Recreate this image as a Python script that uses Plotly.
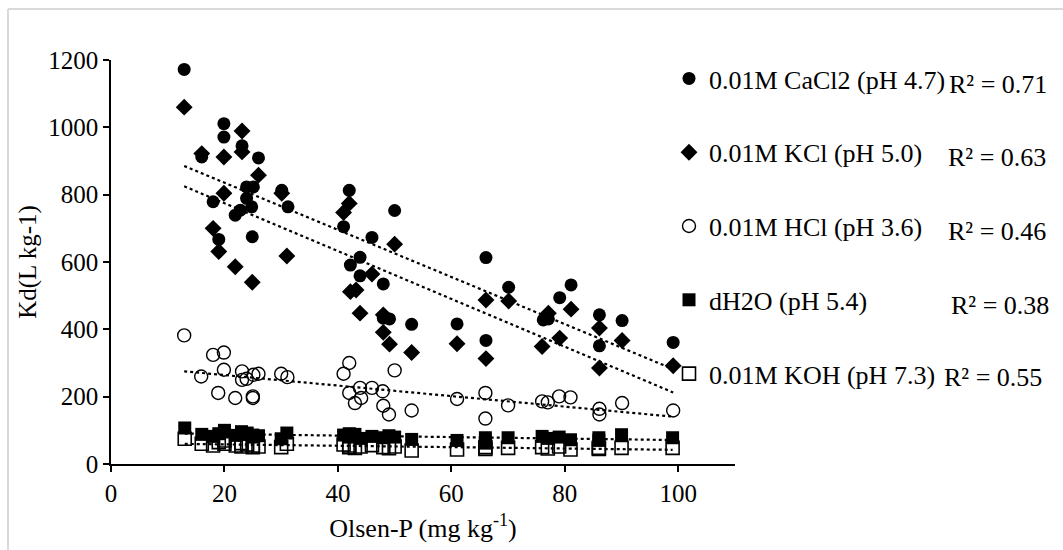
import numpy as np
import plotly.graph_objects as go

# ---------------- data ----------------
cacl2_x = [12.9, 16.0, 18.0, 19.0, 19.9, 19.9, 21.9, 22.8, 23.1, 23.9, 23.9, 24.8, 24.9, 25.1, 26.0,
           30.1, 31.2, 41.0, 42.0, 42.2, 43.9, 43.9, 46.0, 48.0, 48.0, 49.1, 50.0, 53.0, 61.0, 66.1,
           66.1, 70.1, 76.2, 77.1, 79.1, 81.1, 86.1, 86.1, 90.1, 99.1]
cacl2_y = [1172, 912, 779, 667, 1011, 971, 739, 754, 945, 823, 789, 764, 675, 823, 909,
           813, 764, 705, 813, 591, 614, 559, 673, 535, 433, 431, 753, 415, 416, 613,
           367, 525, 428, 431, 494, 532, 443, 351, 426, 361]

kcl_x = [12.9, 16.0, 18.0, 19.0, 19.9, 19.9, 21.9, 23.1, 23.1, 24.9, 26.0, 30.1, 31.0, 41.0, 42.0,
         42.2, 43.2, 43.9, 46.0, 48.0, 48.0, 49.1, 50.0, 53.0, 61.0, 66.1, 66.1, 70.1, 76.0, 77.1,
         79.1, 81.1, 86.1, 86.1, 90.1, 99.1]
kcl_y = [1060, 922, 700, 631, 912, 804, 586, 989, 927, 540, 858, 804, 618, 747, 774,
         512, 517, 448, 564, 443, 391, 356, 653, 331, 357, 487, 313, 484, 349, 448,
         374, 460, 404, 285, 367, 292]

hcl_x = [12.9, 15.9, 18.0, 18.9, 19.9, 19.9, 21.9, 23.1, 23.1, 23.9, 25.0, 25.0, 25.1, 26.0, 30.0,
         31.1, 41.0, 42.0, 42.0, 43.0, 43.9, 44.1, 46.0, 47.9, 48.0, 49.0, 50.0, 53.0, 61.0, 66.0,
         66.0, 70.0, 76.0, 77.0, 79.0, 81.0, 86.1, 86.1, 90.1, 99.1]
hcl_y = [382, 260, 324, 211, 331, 280, 196, 275, 250, 253, 201, 196, 265, 268, 268,
         258, 268, 300, 211, 181, 226, 196, 226, 216, 173, 147, 278, 159, 193, 211,
         135, 174, 186, 183, 201, 198, 164, 147, 181, 159]

soil_x = [13, 16, 18, 19, 20, 20, 22, 23, 23, 24, 25, 25, 26, 30, 31, 41, 42, 42, 43, 44,
          46, 48, 49, 50, 53, 61, 66, 66, 70, 76, 77, 79, 81, 86, 86, 90, 99]
dh2o_y = [107, 88, 82, 90, 100, 95, 85, 96, 88, 92, 80, 86, 84, 75, 92, 86, 90, 80, 88, 76,
          82, 78, 84, 80, 73, 70, 78, 62, 78, 82, 76, 80, 72, 78, 70, 87, 78]
koh_y = [75, 60, 55, 65, 70, 60, 55, 62, 52, 58, 50, 55, 52, 50, 60, 58, 55, 50, 48, 52,
         56, 50, 47, 52, 40, 43, 50, 45, 48, 50, 46, 52, 43, 48, 45, 48, 48]

series_names = ["0.01M CaCl2 (pH 4.7)", "0.01M KCl (pH 5.0)", "0.01M HCl (pH 3.6)",
                "dH2O (pH 5.4)", "0.01M KOH (pH 7.3)"]
r2_labels = ["R² = 0.71", "R² = 0.63", "R² = 0.46", "R² = 0.38", "R² = 0.55"]

x_ticks = [0, 20, 40, 60, 80, 100]
y_ticks = [0, 200, 400, 600, 800, 1000, 1200]

# ---------------- figure ----------------
FONT = "Liberation Serif"
W, H = 1063, 550
ML, MR, MT, MB = 111, 328, 60, 86
PW, PH = W - ML - MR, H - MT - MB

data = [
    (cacl2_x, cacl2_y, dict(symbol="circle", size=13, color="black")),
    (kcl_x, kcl_y, dict(symbol="diamond", size=13, color="black")),
    (hcl_x, hcl_y, dict(symbol="circle-open", size=13, color="black", line=dict(width=1.4))),
    (soil_x, dh2o_y, dict(symbol="square", size=13, color="black")),
    (soil_x, koh_y, dict(symbol="square-open", size=13, color="black", line=dict(width=1.6))),
]

fig = go.Figure()

# trendlines (linear least squares fits of each series)
for i, (xs, ys, mk) in enumerate(data):
    xa, ya = np.array(xs, float), np.array(ys, float)
    k, b = np.polyfit(xa, ya, 1)
    xl = np.array([xa.min(), xa.max()])
    fig.add_trace(go.Scatter(x=xl, y=k * xl + b, mode="lines", showlegend=False,
                             line=dict(color="black", width=2.2, dash="dot"),
                             hoverinfo="skip"))

for i, (xs, ys, mk) in enumerate(data):
    fig.add_trace(go.Scatter(x=xs, y=ys, mode="markers", name=series_names[i],
                             legendgroup=f"g{i}", marker=mk))

# R² labels
r2_pos = [(947, 84), (946, 157), (946, 231), (949, 305), (942, 377)]
for lab, (px, py) in zip(r2_labels, r2_pos):
    fig.add_annotation(text=lab, xref="paper", yref="paper",
                       x=(px - ML) / PW, y=(H - MB - py) / PH,
                       xanchor="left", yanchor="middle", showarrow=False,
                       font=dict(family=FONT, size=26, color="black"))

# chart-area border (light gray)
fig.add_shape(type="line", xref="paper", yref="paper",
              x0=(8 - ML) / PW, x1=(W + 5 - ML) / PW,
              y0=(H - MB - 9) / PH, y1=(H - MB - 9) / PH,
              line=dict(color="#d9d9d9", width=2))
fig.add_shape(type="line", xref="paper", yref="paper",
              x0=(8 - ML) / PW, x1=(8 - ML) / PW,
              y0=(H - MB - 9) / PH, y1=(H - MB - H - 5) / PH,
              line=dict(color="#d9d9d9", width=2))

fig.update_layout(
    width=W, height=H,
    margin=dict(l=ML, r=MR, t=MT, b=MB),
    plot_bgcolor="white", paper_bgcolor="white",
    font=dict(family=FONT, size=25, color="black"),
    showlegend=True,
    legend=dict(x=(669 - ML) / PW, y=(H - MB - 55) / PH, xanchor="left", yanchor="top",
                traceorder="grouped", tracegroupgap=37, maxheight=540,
                font=dict(family=FONT, size=26, color="black"),
                bgcolor="rgba(0,0,0,0)", itemwidth=30),
    xaxis=dict(range=[0, 110], tickvals=x_ticks, showline=True, linecolor="black", linewidth=1.5,
               ticks="outside", ticklen=6, tickwidth=1.5, tickcolor="black",
               showgrid=False, zeroline=False, tickfont=dict(family=FONT, size=25),
               title=dict(text="Olsen-P (mg kg<sup>-1</sup>)", standoff=13,
                          font=dict(family=FONT, size=26))),
    yaxis=dict(range=[0, 1200], tickvals=y_ticks, showline=True, linecolor="black", linewidth=1.5,
               ticks="outside", ticklen=6, tickwidth=1.5, tickcolor="black",
               showgrid=False, zeroline=False, tickfont=dict(family=FONT, size=25),
               title=dict(text="Kd(L kg-1)", standoff=5, font=dict(family=FONT, size=25))),
)

fig.write_html("out.html")
